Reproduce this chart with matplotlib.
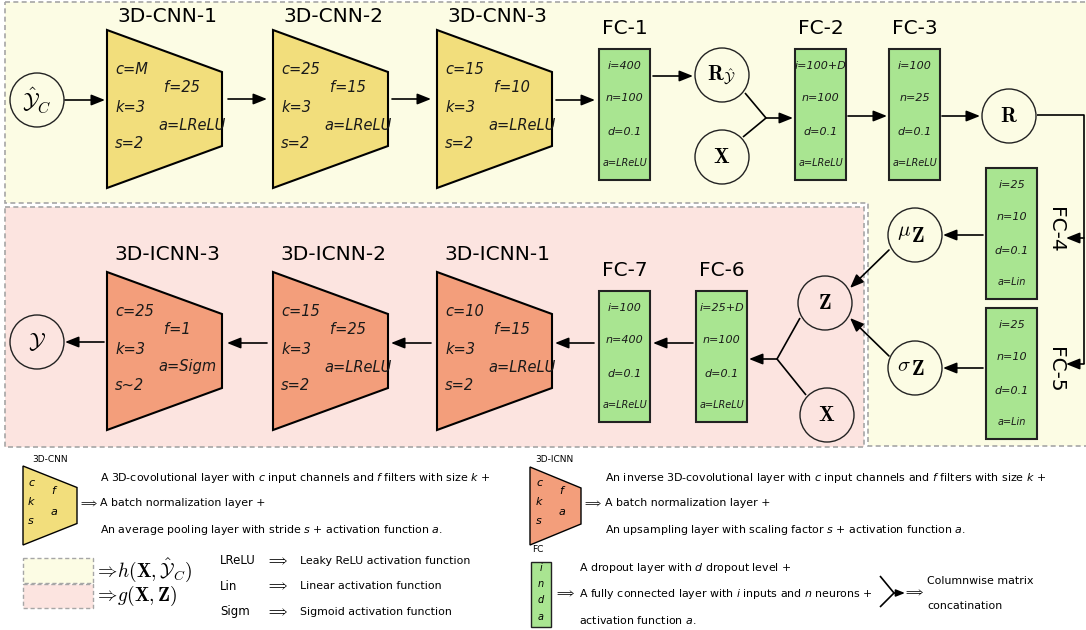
import matplotlib
matplotlib.use('Agg')
import matplotlib.pyplot as plt
from matplotlib.patches import Polygon, Circle, Rectangle

# layer contents
cnn_names = ['3D-CNN-1', '3D-CNN-2', '3D-CNN-3']
cnn_c = ['c=M', 'c=25', 'c=15']
cnn_f = ['f=25', 'f=15', 'f=10']
cnn_k = ['k=3', 'k=3', 'k=3']
cnn_a = ['a=LReLU', 'a=LReLU', 'a=LReLU']
cnn_s = ['s=2', 's=2', 's=2']

icnn_names = ['3D-ICNN-3', '3D-ICNN-2', '3D-ICNN-1']
icnn_c = ['c=25', 'c=15', 'c=10']
icnn_f = ['f=1', 'f=25', 'f=15']
icnn_k = ['k=3', 'k=3', 'k=3']
icnn_a = ['a=Sigm', 'a=LReLU', 'a=LReLU']
icnn_s = ['s~2', 's=2', 's=2']

fc_names = ['FC-1', 'FC-2', 'FC-3', 'FC-4', 'FC-5', 'FC-6', 'FC-7']
fc_i = ['i=400', 'i=100+D', 'i=100', 'i=25', 'i=25', 'i=25+D', 'i=100']
fc_n = ['n=100', 'n=100', 'n=25', 'n=10', 'n=10', 'n=100', 'n=400']
fc_d = ['d=0.1', 'd=0.1', 'd=0.1', 'd=0.1', 'd=0.1', 'd=0.1', 'd=0.1']
fc_a = ['a=LReLU', 'a=LReLU', 'a=LReLU', 'a=Lin', 'a=Lin', 'a=LReLU', 'a=LReLU']

node_labels = {
    'yc': r'$\hat{\mathcal{Y}}_C$',
    'ry': r'$\mathbf{R}_{\hat{\mathcal{Y}}}$',
    'x1': r'$\mathbf{X}$',
    'r': r'$\mathbf{R}$',
    'z': r'$\mathbf{Z}$',
    'x2': r'$\mathbf{X}$',
    'y': r'$\mathcal{Y}$',
}
# latent nodes: raised greek letter + bold Z
latent_labels = {'mu': r'$\mu$', 'sig': r'$\sigma$'}

cnn_desc = ['A 3D-covolutional layer with $c$ input channels and $f$ filters with size $k$ +',
            'A batch normalization layer +',
            'An average pooling layer with stride $s$ + activation function $a$.']
icnn_desc = ['An inverse 3D-covolutional layer with $c$ input channels and $f$ filters with size $k$ +',
             'A batch normalization layer +',
             'An upsampling layer with scaling factor $s$ + activation function $a$.']
fc_desc = ['A dropout layer with $d$ dropout level +',
           'A fully connected layer with $i$ inputs and $n$ neurons +',
           'activation function $a$.']
act_abbr = ['LReLU', 'Lin', 'Sigm']
act_desc = ['Leaky ReLU activation function', 'Linear activation function',
            'Sigmoid activation function']
concat_desc = ['Columnwise matrix', 'concatination']

YEL_BG = '#fcfce4'
PINK_BG = '#fce4e0'
CNN_COL = '#f2de7c'
ICNN_COL = '#f39e7b'
FC_COL = '#a9e591'
DASH = '#a6a6a6'
DASHES = (0, (3, 2))

fig = plt.figure(figsize=(10.86, 6.30), dpi=100)
ax = fig.add_axes([0, 0, 1, 1])
ax.set_xlim(0, 1086)
ax.set_ylim(630, 0)
ax.axis('off')


def trapezoid(x, top, color, w=115, h=158, hr=74, lw=1.5):
    mid = top + h / 2
    pts = [(x, top), (x + w, mid - hr / 2), (x + w, mid + hr / 2), (x, top + h)]
    ax.add_patch(Polygon(pts, closed=True, fc=color, ec='k', lw=lw, joinstyle='miter'))


def conv_layer(x, top, color, name, title_y, c, f, k, a, s):
    trapezoid(x, top, color)
    ax.text(x + 60, title_y, name, ha='center', va='center', fontsize=14.5)
    for dx, dy, t in [(8, 39, c), (57, 58, f), (8, 77, k), (51, 95, a), (8, 113, s)]:
        ax.text(x + dx, top + dy, t, ha='left', va='center', fontsize=10.5,
                style='italic', color='#1a1a1a')


def fc_layer(x, top, name, i, n, d, a, rotated=False):
    ax.add_patch(Rectangle((x, top), 51, 131, fc=FC_COL, ec='#222222', lw=1.5))
    cx = x + 25.5
    for dy, t, fs in [(17, i, 8), (49, n, 8), (83, d, 8), (114, a, 7)]:
        ax.text(cx, top + dy, t, ha='center', va='center', fontsize=fs,
                style='italic', color='#1a1a1a')
    if rotated:
        ax.text(x + 70, top + 62, name, ha='center', va='center', fontsize=14.5, rotation=-90)
    else:
        ax.text(cx, top - 21, name, ha='center', va='center', fontsize=14.5)


def node(x, y, label, fs=15):
    ax.add_patch(Circle((x, y), 27, fc='none', ec='#222222', lw=1))
    if label:
        ax.text(x, y, label, ha='center', va='center', fontsize=fs, math_fontfamily='cm')


def latent_node(x, y, greek):
    node(x, y, None)
    ax.text(x - 4, y - 3, greek, ha='right', va='center', fontsize=15, math_fontfamily='cm')
    ax.text(x - 4, y + 1, r'$\mathbf{Z}$', ha='left', va='center', fontsize=15,
            math_fontfamily='cm')


def arrow(p0, p1, ms=11):
    ax.annotate('', xy=p1, xytext=p0,
                arrowprops=dict(arrowstyle='-|>,head_length=0.75,head_width=0.3',
                                color='k', lw=1.2, shrinkA=0, shrinkB=0, mutation_scale=ms))


def line(*pts):
    ax.plot([p[0] for p in pts], [p[1] for p in pts], color='k', lw=1.2,
            solid_capstyle='butt')


# background regions
ax.add_patch(Polygon([(5, 2), (1100, 2), (1100, 446), (868, 446), (868, 203), (5, 203)],
                     closed=True, fc=YEL_BG, ec=DASH, lw=1.2, ls=DASHES))
ax.add_patch(Rectangle((5, 207), 859, 240, fc=PINK_BG, ec=DASH, lw=1.2, ls=DASHES))

# conv / inverse conv blocks
conv_x = [107, 273, 437]
for j in range(3):
    conv_layer(conv_x[j], 30, CNN_COL, cnn_names[j], 17,
               cnn_c[j], cnn_f[j], cnn_k[j], cnn_a[j], cnn_s[j])
    conv_layer(conv_x[j], 272, ICNN_COL, icnn_names[j], 255,
               icnn_c[j], icnn_f[j], icnn_k[j], icnn_a[j], icnn_s[j])

fc_pos = [(599, 49, False), (795, 49, False), (889, 49, False),
          (986, 168, True), (986, 308, True), (696, 291, False), (599, 291, False)]
for j, (x, top, rot) in enumerate(fc_pos):
    fc_layer(x, top, fc_names[j], fc_i[j], fc_n[j], fc_d[j], fc_a[j], rotated=rot)

node(37, 100, node_labels['yc'], 16)
node(722, 75, node_labels['ry'], 15)
node(722, 157, node_labels['x1'], 15)
node(1009, 116, node_labels['r'], 15)
latent_node(915, 235, latent_labels['mu'])
latent_node(915, 368, latent_labels['sig'])
node(825, 303, node_labels['z'], 15)
node(827, 415, node_labels['x2'], 15)
node(37, 342, node_labels['y'], 16)

# flow arrows
arrow((65, 100), (105, 100))
arrow((228, 99), (267, 99))
arrow((392, 99), (431, 99))
arrow((556, 100), (595, 100))
arrow((653, 76), (693, 76))
line((745, 93), (766, 118), (743, 137))
arrow((766, 118), (793, 118))
arrow((848, 116), (887, 116))
arrow((942, 116), (980, 116))
line((1037, 115), (1084, 115), (1084, 364))
arrow((1084, 238), (1066, 238))
arrow((1084, 364), (1066, 364))
arrow((983, 235), (943, 235))
arrow((983, 368), (943, 368))
arrow((889, 250), (850, 288))
arrow((889, 356), (850, 318))
line((800, 318), (777, 359), (806, 395))
arrow((777, 359), (749, 359))
arrow((693, 343), (653, 343))
arrow((594, 343), (555, 343))
arrow((431, 343), (391, 343))
arrow((267, 343), (227, 343))
arrow((104, 342), (65, 342))

# legend: conv blocks
DARR = r'$\Longrightarrow$'
trapezoid(23, 466, CNN_COL, w=54, h=79, hr=36, lw=1)
trapezoid(530, 467, ICNN_COL, w=51, h=78, hr=36, lw=1)
ax.text(50, 460, '3D-CNN', ha='center', va='center', fontsize=6.5)
ax.text(554, 459, '3D-ICNN', ha='center', va='center', fontsize=6.5)
for bx in [28, 536]:
    for dx, dy, t in [(0, 483, 'c'), (0, 502, 'k'), (0, 521, 's'), (23, 491, 'f'), (23, 512, 'a')]:
        ax.text(bx + dx, dy, t, ha='left', va='center', fontsize=8, style='italic')
ax.text(79, 503, DARR, ha='left', va='center', fontsize=7.5, math_fontfamily='cm')
ax.text(583, 503, DARR, ha='left', va='center', fontsize=7.5, math_fontfamily='cm')
for j, y in enumerate([478, 503, 530]):
    ax.text(100, y, cnn_desc[j], ha='left', va='center', fontsize=7.9)
    ax.text(605, y, icnn_desc[j], ha='left', va='center', fontsize=7.9)

# legend: regions
ax.add_patch(Rectangle((23, 558), 70, 25, fc=YEL_BG, ec=DASH, lw=1, ls=DASHES))
ax.add_patch(Rectangle((23, 584), 70, 24, fc=PINK_BG, ec=DASH, lw=1, ls=DASHES))
ax.text(94, 570, r'$\Rightarrow\!h(\mathbf{X},\hat{\mathcal{Y}}_C)$', ha='left', va='center',
        fontsize=14, math_fontfamily='cm')
ax.text(94, 596, r'$\Rightarrow\!g(\mathbf{X},\mathbf{Z})$', ha='left', va='center',
        fontsize=14, math_fontfamily='cm')

# legend: activations
for j, y in enumerate([561, 586, 612]):
    ax.text(220, y, act_abbr[j], ha='left', va='center', fontsize=8.5)
    ax.text(266, y, DARR, ha='left', va='center', fontsize=8.5, math_fontfamily='cm')
    ax.text(300, y, act_desc[j], ha='left', va='center', fontsize=7.9)

# legend: fc block
ax.text(538, 550, 'FC', ha='center', va='center', fontsize=6.5)
ax.add_patch(Rectangle((531, 562), 20, 65, fc=FC_COL, ec='#222222', lw=1))
for y, t in zip([568, 584, 600, 617], ['i', 'n', 'd', 'a']):
    ax.text(541, y, t, ha='center', va='center', fontsize=7, style='italic')
ax.text(555, 594, DARR, ha='left', va='center', fontsize=8, math_fontfamily='cm')
for j, y in enumerate([568, 594, 620]):
    ax.text(579, y, fc_desc[j], ha='left', va='center', fontsize=7.9)

# legend: concatenation
line((880, 576), (894, 593), (880, 607))
arrow((894, 593), (905, 593), ms=7)
ax.text(904, 593, DARR, ha='left', va='center', fontsize=8, math_fontfamily='cm')
ax.text(927, 581, concat_desc[0], ha='left', va='center', fontsize=7.9)
ax.text(927, 606, concat_desc[1], ha='left', va='center', fontsize=7.9)

fig.savefig('out.png', dpi=100, facecolor='white')
